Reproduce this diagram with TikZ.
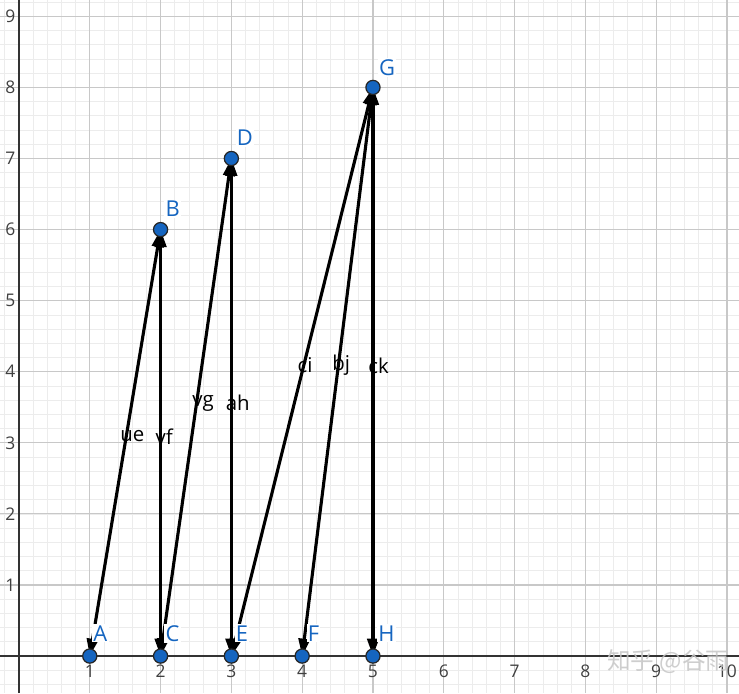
\documentclass[tikz,border=0pt]{standalone}
\usepackage{fontspec}
\setmainfont{Open Sans}
\newfontfamily\cjk{Noto Sans CJK SC}
\usetikzlibrary{arrows.meta}
\definecolor{ptblue}{RGB}{21,101,192}
\definecolor{majgrid}{RGB}{200,200,200}
\definecolor{mingrid}{RGB}{236,236,236}
\begin{document}
\begin{tikzpicture}[x=1cm,y=1.004cm,
  vec/.style={line width=1.25pt, {Triangle[length=7pt,width=4.6pt]}-{Triangle[length=7pt,width=4.6pt]}},
  pt/.style={circle, fill=ptblue, draw=black!85, line width=0.5pt, minimum size=0.2cm, inner sep=0pt},
  ptlabel/.style={text=ptblue, font=\fontsize{8.8}{10}\selectfont, fill=white, inner sep=0.5pt},
  veclabel/.style={font=\fontsize{8.2}{9}\selectfont, inner sep=0pt},
  ticklabel/.style={text=black!75, font=\fontsize{7}{8}\selectfont, inner sep=0pt},
  minline/.style={mingrid, line width=0.3pt},
  majline/.style={majgrid, line width=0.45pt}]
\useasboundingbox (-0.268,-0.52) rectangle (10.17,9.23);
\fill[white] (-0.268,-0.52) rectangle (10.17,9.23);
% minor grid
\foreach \i in {-1,...,51} \draw[minline] (\i/5,-0.52) -- (\i/5,9.23);
\foreach \j in {-2,...,46} \draw[minline] (-0.268,\j/5) -- (10.17,\j/5);
% major grid
\foreach \i in {1,...,10} \draw[majline] (\i,-0.52) -- (\i,9.23);
\foreach \j in {1,...,9} \draw[majline] (-0.268,\j) -- (10.17,\j);
% axes
\draw[black!80, line width=0.6pt] (-0.268,0) -- (10.17,0);
\draw[black!80, line width=0.6pt] (0,-0.52) -- (0,9.23);
% tick labels
\foreach \i in {1,...,10} \node[ticklabel] (tx\i) at (\i,-0.21) {\i};
\foreach \j in {1,...,9} \node[ticklabel] (ty\j) at (-0.12,\j) {\j};
% points
\coordinate (A) at (1,0);
\coordinate (B) at (2,6);
\coordinate (C) at (2,0);
\coordinate (D) at (3,7);
\coordinate (E) at (3,0);
\coordinate (F) at (4,0);
\coordinate (G) at (5,8);
\coordinate (H) at (5,0);
% vectors
\draw[vec] (A) -- (B);
\draw[vec] (B) -- (C);
\draw[vec] (C) -- (D);
\draw[vec] (D) -- (E);
\draw[vec] (E) -- (G);
\draw[vec] (F) -- (G);
\draw[vec] (H) -- (G);
% vector labels
\node[veclabel] (lue) at (1.60,3.09) {ue};
\node[veclabel] (lvf) at (2.05,3.09) {vf};
\node[veclabel] (lvg) at (2.60,3.56) {vg};
\node[veclabel] (lah) at (3.09,3.56) {ah};
\node[veclabel] (lci) at (4.04,4.09) {ci};
\node[veclabel] (lbj) at (4.55,4.09) {bj};
\node[veclabel] (lck) at (5.08,4.09) {ck};
% point labels
\node[ptlabel] (lA) at (1.15,0.32) {A};
\node[ptlabel] (lB) at (2.17,6.29) {B};
\node[ptlabel] (lC) at (2.17,0.32) {C};
\node[ptlabel] (lD) at (3.19,7.29) {D};
\node[ptlabel] (lE) at (3.15,0.32) {E};
\node[ptlabel] (lF) at (4.16,0.32) {F};
\node[ptlabel] (lG) at (5.20,8.28) {G};
\node[ptlabel] (lH) at (5.19,0.32) {H};
% dots
\foreach \p in {A,B,C,D,E,F,G,H} \node[pt] (d\p) at (\p) {};
% watermark
\node[text=gray!45, opacity=0.85, font=\cjk\fontsize{9.5}{11}\selectfont, inner sep=0pt] (wm) at (9.17,-0.08) {知乎 @谷雨};
\end{tikzpicture}
\end{document}
